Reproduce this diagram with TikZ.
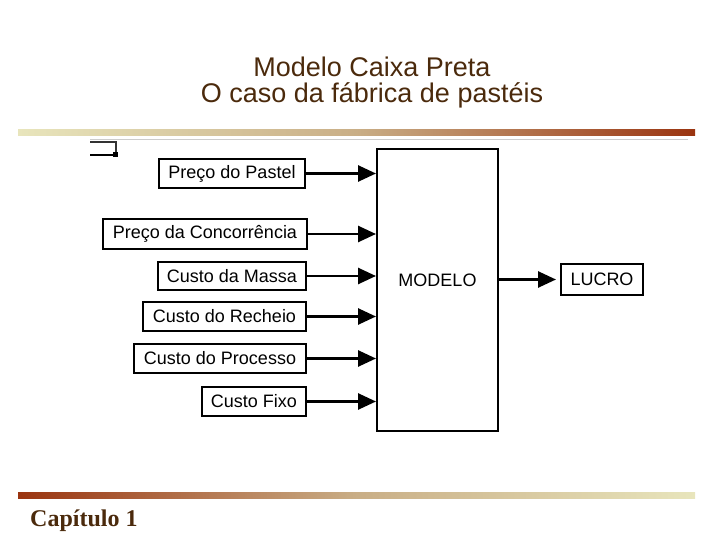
\documentclass[tikz,border=0pt]{standalone}
\usepackage{fontspec}
\setmainfont{Liberation Sans}
\newfontfamily\serifcap{Liberation Serif}
\usetikzlibrary{arrows.meta}
\definecolor{titlebrown}{HTML}{4B2A0C}
\definecolor{barlight}{HTML}{E8E5BC}
\definecolor{barmid}{HTML}{C9AE86}
\definecolor{bardark}{HTML}{9A3410}
\tikzset{
  inbox/.style={draw=black, line width=2pt, inner sep=0pt, font=\fontsize{18}{20}\selectfont},
  flow/.style={line width=2.6pt, -{Triangle[length=18pt,width=16pt]}},
}
\begin{document}
\begin{tikzpicture}[x=1pt,y=-1pt]
\useasboundingbox (0,0) rectangle (720,540);
% bars
\shade[left color=barlight, right color=bardark, middle color=barmid] (18,130) rectangle (695,136);
\shade[left color=bardark, right color=barlight, middle color=barmid] (18,492) rectangle (695,498);
\draw[gray!40, line width=1pt] (90,140) -- (688,140);
% small bracket artefact
\draw[black!80, line width=1.5pt] (90,142) -- (116,142) -- (116,155);
\draw[black, line width=1.5pt] (90,155) -- (114,155);
\fill[black] (113,152) rectangle (118,157);
% title
\node[text=titlebrown, align=center, inner sep=0pt, font=\fontsize{27}{26}\selectfont] (title) at (372,83) {Modelo Caixa Preta\\O caso da fábrica de pastéis};
% boxes
\node[inbox, minimum width=146, minimum height=29] (p1) at (232,173.5) {Preço do Pastel};
\node[inbox, minimum width=204, minimum height=30] (p2) at (205,234) {Preço da Concorrência};
\node[inbox, minimum width=148, minimum height=28] (p3) at (232,276) {Custo da Massa};
\node[inbox, minimum width=163, minimum height=29] (p4) at (224.5,316.5) {Custo do Recheio};
\node[inbox, minimum width=172, minimum height=29] (p5) at (220,358.5) {Custo do Processo};
\node[inbox, minimum width=104, minimum height=29] (p6) at (254,401.5) {Custo Fixo};
\node[inbox, minimum width=121, minimum height=282] (m) at (437.5,290) {};
\node[font=\fontsize{18}{20}\selectfont, inner sep=0pt] (mt) at (437.5,280) {MODELO};
\node[inbox, minimum width=82, minimum height=31] (l) at (602,279.5) {LUCRO};
% arrows
\foreach \n in {p1,p2,p3,p4,p5,p6}{
  \draw[flow] (\n.east) -- (m.west |- \n.east);
}
\draw[flow, shorten >=4pt] (m.east |- l.west) -- (l.west);
% footer
\node[text=titlebrown, font=\serifcap\bfseries\fontsize{24}{26}\selectfont, anchor=base west, inner sep=0pt] (cap) at (30,526) {Capítulo 1};
\end{tikzpicture}
\end{document}
